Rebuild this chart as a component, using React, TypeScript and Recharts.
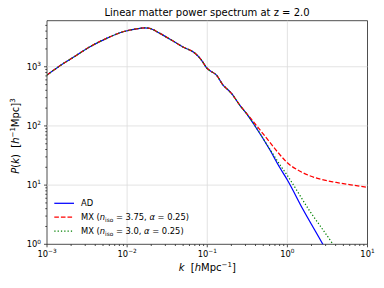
import React from 'react';
import { LineChart, Line, XAxis, YAxis, ReferenceLine, ReferenceArea, Legend, Customized } from 'recharts';

// Shared low-k part (all three spectra coincide here)
const kBase = [0.001, 0.00145, 0.00213, 0.00344, 0.00555, 0.00893, 0.0144, 0.0166, 0.0192, 0.0256, 0.0375, 0.0499, 0.0698, 0.0847, 0.0986, 0.1074, 0.1303, 0.1574, 0.1734, 0.2005];
const pBase = [724, 1040, 1442, 2178, 3020, 3900, 4455, 4560, 4455, 3665, 2717, 2153, 1703, 1298, 951, 863, 724, 491, 432, 355];

// AD tail
const kTailAD = [0.254, 0.3076, 0.3725, 0.601, 0.8, 1.0, 1.563, 2.77, 3.5];
const pTailAD = [225, 163, 112, 40, 20, 12.2, 3.9, 1.0, 0.56];

// MX (n_iso = 3.75) tail
const kTailMX375 = [0.254, 0.3076, 0.3725, 0.601, 0.8, 0.97, 1.563, 2.52, 4.07, 6.56, 10];
const pTailMX375 = [226, 165, 120, 53.5, 33, 24.8, 16.2, 12.7, 11.1, 10.0, 9.2];

// MX (n_iso = 3.0) tail
const kTailMX30 = [0.254, 0.3076, 0.3725, 0.601, 0.8, 1.0, 1.89, 3.7, 5.0];
const pTailMX30 = [225, 163, 113, 41, 22.5, 14.5, 3.7, 1.0, 0.52];

const xMajor = [0.001, 0.01, 0.1, 1, 10];
const yMajor = [1, 10, 100, 1000];
const xDomain = [0.001, 10];
const yDomain = [1, 6000];

const titleText = 'Linear matter power spectrum at z = 2.0';
const seriesNames = ['AD', 'MX (n_iso = 3.75, α = 0.25)', 'MX (n_iso = 3.0, α = 0.25)'];

const FONT = 'DejaVu Sans';
const C_AD = '#0000ff';
const C_375 = '#ff0000';
const C_30 = '#008000';

const toPts = (k: number[], p: number[]) => k.map((kk, i) => ({ k: kk, p: p[i] }));
const dataAD = toPts([...kBase, ...kTailAD], [...pBase, ...pTailAD]);
const data375 = toPts([...kBase, ...kTailMX375], [...pBase, ...pTailMX375]);
const data30 = toPts([...kBase, ...kTailMX30], [...pBase, ...pTailMX30]);

const minorTicks = (majors: number[], max: number) => {
  const out: number[] = [];
  majors.forEach((d) => {
    for (let m = 2; m <= 9; m++) {
      const v = m * d;
      if (v < max) out.push(v);
    }
  });
  return out;
};
const xTicks = [...xMajor, ...minorTicks(xMajor, xDomain[1])].sort((a, b) => a - b);
const yTicks = [...yMajor, ...minorTicks(yMajor, yDomain[1])].sort((a, b) => a - b);

const isMajor = (v: number) => Math.abs(Math.log10(v) - Math.round(Math.log10(v))) < 1e-6;
const expStr = (v: number) => {
  const e = Math.round(Math.log10(v));
  return e < 0 ? '\u2212' + Math.abs(e) : String(e);
};

const XTick = (props: any) => {
  const { x, y, payload } = props;
  const v = payload.value;
  const major = isMajor(v);
  const len = major ? 3 : 1.7;
  return (
    <g>
      <line x1={x} x2={x} y1={y} y2={y + len} stroke="#222" strokeWidth={0.8} />
      {major && (
        <text x={x} y={y + 12.4} textAnchor="middle" fontSize={8.33} fontFamily={FONT} fill="#000">
          <tspan>10</tspan>
          <tspan dy={-3.8} fontSize={5.8}>{expStr(v)}</tspan>
        </text>
      )}
    </g>
  );
};

const YTick = (props: any) => {
  const { x, y, payload } = props;
  const v = payload.value;
  const major = isMajor(v);
  const len = major ? 3 : 1.7;
  return (
    <g>
      <line x1={x - len} x2={x} y1={y} y2={y} stroke="#222" strokeWidth={0.8} />
      {major && (
        <text x={x - 6} y={y + 3} textAnchor="end" fontSize={8.33} fontFamily={FONT} fill="#000">
          <tspan>10</tspan>
          <tspan dy={-3.8} fontSize={5.8}>{expStr(v)}</tspan>
        </text>
      )}
    </g>
  );
};

const LABEL_FS = 10;
const LABEL_SUP = 7;

const XLabel = (props: any) => {
  const vb = props.viewBox || { x: 47, y: 244.3, width: 320.5, height: 30 };
  const cx = vb.x + vb.width / 2;
  const by = vb.y + 27;
  return (
    <text x={cx} y={by} textAnchor="middle" fontSize={LABEL_FS} fontFamily={FONT} fill="#000">
      <tspan fontStyle="italic">k</tspan>
      <tspan>{'\u00a0\u00a0['}</tspan>
      <tspan fontStyle="italic">h</tspan>
      <tspan>Mpc</tspan>
      <tspan dy={-4} fontSize={LABEL_SUP}>{'\u22121'}</tspan>
      <tspan dy={4}>]</tspan>
    </text>
  );
};

const YLabel = (props: any) => {
  const vb = props.viewBox || { x: 0, y: 20.7, width: 47, height: 223.6 };
  const cx = vb.x + 18.5;
  const cy = vb.y + vb.height / 2 + 3.5;
  return (
    <text x={cx} y={cy} transform={`rotate(-90, ${cx}, ${cy})`} textAnchor="middle" fontSize={LABEL_FS} fontFamily={FONT} fill="#000">
      <tspan fontStyle="italic">P</tspan>
      <tspan>(</tspan>
      <tspan fontStyle="italic">k</tspan>
      <tspan>{')\u00a0\u00a0['}</tspan>
      <tspan fontStyle="italic">h</tspan>
      <tspan dy={-4} fontSize={LABEL_SUP}>{'\u22121'}</tspan>
      <tspan dy={4}>Mpc]</tspan>
      <tspan dy={-4} fontSize={LABEL_SUP}>3</tspan>
    </text>
  );
};

const LegendItemText = ({ x, y, name }: { x: number; y: number; name: string }) => {
  if (name.indexOf('n_iso') < 0) {
    return (
      <text x={x} y={y} fontSize={8.33} fontFamily={FONT} fill="#000">{name}</text>
    );
  }
  const rest = name.split('n_iso')[1];
  const [beforeAlpha, afterAlpha] = rest.split('α');
  return (
    <text x={x} y={y} fontSize={8.33} fontFamily={FONT} fill="#000">
      <tspan>{name.split('n_iso')[0]}</tspan>
      <tspan fontStyle="italic">n</tspan>
      <tspan dy={2} fontSize={5.8}>iso</tspan>
      <tspan dy={-2}>{beforeAlpha.replace(/ /g, '\u00a0')}</tspan>
      <tspan fontStyle="italic">α</tspan>
      <tspan>{afterAlpha.replace(/ /g, '\u00a0')}</tspan>
    </text>
  );
};

const renderLegend = () => {
  const items = [
    { name: seriesNames[0], color: C_AD, dash: undefined as string | undefined },
    { name: seriesNames[1], color: C_375, dash: '4.6 2' },
    { name: seriesNames[2], color: C_30, dash: '1.25 2.06' },
  ];
  return (
    <svg width={160} height={46} style={{ display: 'block' }}>
      {items.map((it, i) => {
        const cy = 8.3 + i * 13.9;
        return (
          <g key={it.name}>
            <line x1={4.3} x2={24} y1={cy} y2={cy} stroke={it.color} strokeWidth={1.25} strokeDasharray={it.dash} />
            <LegendItemText x={31} y={cy + 3} name={it.name} />
          </g>
        );
      })}
    </svg>
  );
};

const Title = () => (
  <text x={207} y={16} textAnchor="middle" fontSize={10} fontFamily={FONT} fill="#000">
    {titleText}
  </text>
);

export default function App() {
  return (
    <div style={{ position: 'absolute', left: 0, top: 0, width: 384, height: 288, background: '#fff' }}>
      <LineChart width={384} height={288} margin={{ top: 20.7, right: 16.5, bottom: 13.7, left: 0 }}>
        <XAxis
          dataKey="k"
          type="number"
          scale="log"
          domain={xDomain}
          allowDataOverflow
          ticks={xTicks}
          interval={0}
          tick={<XTick />}
          tickLine={false}
          tickSize={0}
          tickMargin={0}
          axisLine={false}
          height={30}
          label={{ content: (p: any) => <XLabel {...p} /> }}
        />
        <YAxis
          type="number"
          scale="log"
          domain={yDomain}
          allowDataOverflow
          ticks={yTicks}
          interval={0}
          tick={<YTick />}
          tickLine={false}
          tickSize={0}
          tickMargin={0}
          axisLine={false}
          width={47}
          label={{ content: (p: any) => <YLabel {...p} /> }}
        />
        {xMajor.slice(1, -1).map((v) => (
          <ReferenceLine key={'gx' + v} x={v} stroke="#dcdcdc" strokeWidth={0.8} />
        ))}
        {yMajor.slice(1).map((v) => (
          <ReferenceLine key={'gy' + v} y={v} stroke="#dcdcdc" strokeWidth={0.8} />
        ))}
        <Line data={dataAD} dataKey="p" name={seriesNames[0]} type="monotone" stroke={C_AD} strokeWidth={1.25} dot={false} isAnimationActive={false} />
        <Line data={data375} dataKey="p" name={seriesNames[1]} type="monotone" stroke={C_375} strokeWidth={1.25} strokeDasharray="4.6 2" dot={false} isAnimationActive={false} />
        <Line data={data30} dataKey="p" name={seriesNames[2]} type="monotone" stroke={C_30} strokeWidth={1.25} strokeDasharray="1.25 2.06" dot={false} isAnimationActive={false} />
        <ReferenceArea x1={xDomain[0]} x2={xDomain[1]} y1={yDomain[0]} y2={yDomain[1]} fill="none" stroke="#222" strokeWidth={0.8} />
        <Legend
          layout="vertical"
          align="center"
          verticalAlign="middle"
          content={renderLegend}
          wrapperStyle={{ left: 50, top: 195, width: 160, height: 46 }}
        />
        <Customized component={<Title />} />
      </LineChart>
    </div>
  );
}
